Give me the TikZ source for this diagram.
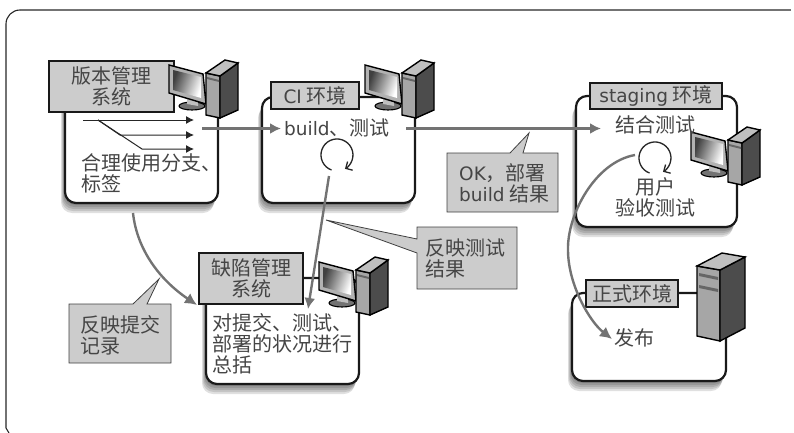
\documentclass[tikz,border=0pt]{standalone}
\usepackage{fontspec}
\setmainfont{Noto Sans CJK SC}
\newfontfamily\latinfont{DejaVu Sans}
\newcommand{\lat}[1]{{\latinfont\fontsize{18.5}{21}\selectfont #1}}
\usetikzlibrary{shadows, arrows.meta}
\definecolor{labelgray}{gray}{0.80}
\definecolor{inkgray}{gray}{0.27}
\definecolor{flowgray}{gray}{0.45}
\tikzset{
  softshadow/.style={drop shadow={shadow xshift=#1*-0.4pt, shadow yshift=#1*-1pt, opacity=0.12, fill=black}},
  envbody/.style={draw=black!90, line width=2.2pt, fill=white, rounded corners=11pt, inner sep=0pt,
    softshadow=10, softshadow=8, softshadow=6, softshadow=4, softshadow=2},
  envlabel/.style={draw=black!90, line width=2.2pt, fill=labelgray, inner sep=0pt, text=inkgray, align=center, font=\fontsize{20}{21}\selectfont},
  bodytext/.style={text=inkgray, align=left, inner sep=0pt, font=\fontsize{20}{21}\selectfont},
  calloutbox/.style={draw=black!75, line width=0.8pt, fill=labelgray},
  flow/.style={draw=flowgray, line width=2.4pt},
  thinflow/.style={draw=black!85, line width=1pt},
  pics/pcset/.style={code={
    \draw[line width=1.1pt, fill=black!55] (-14,33) ellipse (13pt and 4pt);
    \fill[black!25] (-19,26) -- (-8,28) -- (-8,33) -- (-19,31) -- cycle;
    \draw[line width=1.4pt, fill=black!30] (-37,-8) -- (-3,1) -- (0,31) -- (-37,20) -- cycle;
    \shade[left color=black!75, right color=white, shading angle=70] (-33,-3) -- (-5,4) -- (-5,25) -- (-33,17) -- cycle;
    \draw[line width=1.4pt, fill=black!35] (0,0) -- (14,3) -- (14,45) -- (0,42) -- cycle;
    \draw[line width=1.4pt, fill=black!70] (14,3) -- (32,-10) -- (32,37) -- (14,45) -- cycle;
    \draw[line width=1.4pt, fill=black!25] (0,0) -- (19,-13) -- (32,-10) -- (14,3) -- cycle;
    \fill[black!60] (1,4) -- (13,7) -- (13,9) -- (1,6) -- cycle;
  }},
}
\begin{document}
\begin{tikzpicture}[x=1pt, y=-1pt]
  \useasboundingbox (0,0) rectangle (794,433);
  % frame
  \draw[black!55, line width=1.1pt] (791,10) -- (20,10);
  \draw[black!85, line width=1.1pt] (20,10) arc[start angle=270, end angle=180, radius=14] -- (6,428) -- (9,433);

  % environments
  \node[envbody, minimum width=153pt, minimum height=110pt] (vcsbody) at (141.5,148) {};
  \node[envbody, minimum width=153pt, minimum height=106pt] (cibody) at (338.5,150) {};
  \node[envbody, minimum width=161pt, minimum height=131pt] (stagingbody) at (656.5,161.5) {};
  \node[envbody, minimum width=153pt, minimum height=106pt] (bugbody) at (282.5,331) {};
  \node[envbody, minimum width=154pt, minimum height=88pt] (releasebody) at (649,337) {};

  % name plates
  \node[envlabel, minimum width=125pt, minimum height=51pt] (vcslabel) at (111.5,86.5) {版本管理\\系统};
  \node[envlabel, minimum width=88pt, minimum height=27pt] (cilabel) at (315,95.5) {\lat{CI} 环境};
  \node[envlabel, minimum width=132pt, minimum height=26pt] (staginglabel) at (656,96) {\lat{staging} 环境};
  \node[envlabel, minimum width=104pt, minimum height=51pt] (buglabel) at (251,278.5) {缺陷管理\\系统};
  \node[envlabel, minimum width=92pt, minimum height=27pt] (releaselabel) at (632,293.5) {正式环境};

  % machines
  \pic at (206,73) {pcset};
  \pic at (402,73) {pcset};
  \pic at (728,140) {pcset};
  \pic at (356,270) {pcset};
  \draw[line width=1.4pt, fill=black!35] (697,266) -- (720,270) -- (720,341) -- (697,336) -- cycle;
  \draw[line width=1.4pt, fill=black!70] (720,270) -- (745,257) -- (745,328) -- (720,341) -- cycle;
  \draw[line width=1.4pt, fill=black!25] (697,266) -- (722,253) -- (745,257) -- (720,270) -- cycle;
  \fill[black!60] (699,273) -- (718,277) -- (718,280) -- (699,276) -- cycle;
  \fill[black!60] (699,285) -- (718,289) -- (718,292) -- (699,288) -- cycle;

  % texts in the boxes
  \node[bodytext, anchor=north west] (vcstext) at (81,153) {合理使用分支、\\标签};
  \node[bodytext, anchor=west] (build) at (284,128) {\lat{build}、测试};
  \node[bodytext, anchor=west] (integration) at (615,125) {结合测试};
  \node[bodytext, align=center, anchor=north] (uat) at (655,177) {用户\\验收测试};
  \node[bodytext, anchor=north west] (bugtext) at (212,313) {对提交、测试、\\部署的状况进行\\总括};
  \node[bodytext, anchor=west] (release) at (614,338) {发布};

  % loops
  \draw[line width=1.3pt, black!85, -{Straight Barb[length=5pt,width=10pt]}] (331.5,170) arc[start angle=110, end angle=420, radius=16];
  \draw[line width=1.3pt, black!85, -{Straight Barb[length=5pt,width=10pt]}] (649.5,173) arc[start angle=110, end angle=420, radius=16];

  % branches
  \coordinate (branchstart) at (83,120);
  \coordinate (branchfork) at (98,120);
  \coordinate (branchtop) at (194,120);
  \coordinate (branchmid) at (194,135);
  \coordinate (branchlow) at (194,149);
  \draw[thinflow, -{Latex[length=8pt,width=8pt]}] (branchstart) -- (branchtop);
  \draw[thinflow, -{Latex[length=8pt,width=8pt]}] (branchfork) -- (120,135) -- (branchmid);
  \draw[thinflow, -{Latex[length=8pt,width=8pt]}] (branchfork) -- (142,149) -- (branchlow);

  % flows
  \coordinate (vcsout) at (202,128.5);
  \coordinate (ciin) at (281,128.5);
  \coordinate (ciout) at (406,128.5);
  \coordinate (stagingin) at (601,128.5);
  \coordinate (loopout) at (329,176);
  \coordinate (bugin) at (308,309);
  \coordinate (vcsdown) at (133,213);
  \coordinate (bugleft) at (197,305);
  \coordinate (stagingout) at (635,155);
  \coordinate (stagingbend) at (568,250);
  \coordinate (releasein) at (612,339);
  \draw[flow, -{Latex[length=11pt,width=11pt]}] (vcsout) -- (ciin);
  \draw[flow, -{Latex[length=11pt,width=11pt]}] (ciout) -- (stagingin);
  \draw[flow, -{Latex[length=11pt,width=11pt]}] (loopout) -- (bugin);
  \draw[flow, -{Latex[length=12pt,width=12pt]}] (vcsdown) .. controls (137,250) and (160,280) .. (bugleft);
  \draw[flow, -{Latex[length=12pt,width=12pt]}] (stagingout) .. controls (595,162) and (567,215) .. (stagingbend) .. controls (568,285) and (590,322) .. (releasein);

  % remarks
  \draw[calloutbox] (447,153) -- (510,153) -- (529,133) -- (523,153) -- (558,153) -- (558,212) -- (447,212) -- cycle;
  \node[bodytext, anchor=north west] (deploynote) at (459,163) {\lat{OK}，部署\\\lat{build} 结果};
  \draw[calloutbox] (417,227) -- (517,227) -- (517,289) -- (417,289) -- (417,253) -- (326,220) -- (417,239) -- cycle;
  \node[bodytext, anchor=north west] (testnote) at (425,239) {反映测试\\结果};
  \draw[calloutbox] (69,304) -- (133,304) -- (159,279) -- (147,304) -- (171,304) -- (171,363) -- (69,363) -- cycle;
  \node[bodytext, anchor=north west] (commitnote) at (80,315) {反映提交\\记录};
\end{tikzpicture}
\end{document}
